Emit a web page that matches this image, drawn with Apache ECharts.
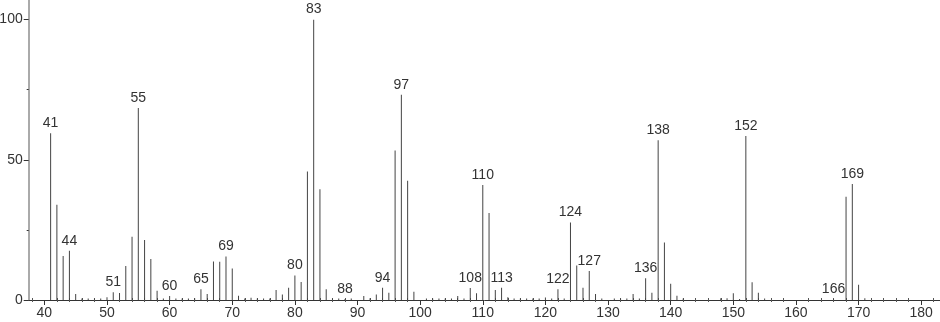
<!DOCTYPE html>
<html>
<head>
<meta charset="utf-8">
<script src="https://cdn.jsdelivr.net/npm/echarts@6/dist/echarts.min.js"></script>
<style>
html,body{margin:0;padding:0;background:#fff;}
#chart{width:940px;height:322px;}
</style>
</head>
<body>
<div id="chart"></div>
<script>
// m/z values and relative intensities
const masses = [41,42,43,44,45,46,47,48,49,50,51,52,53,54,55,56,57,58,59,60,
  61,62,63,64,65,66,67,68,69,70,71,72,73,74,75,76,77,78,79,80,81,82,83,84,85,
  86,87,88,89,91,92,93,94,95,96,97,98,99,101,102,103,104,105,106,107,108,109,
  110,111,112,113,114,115,116,117,118,119,120,121,122,123,124,125,126,127,128,
  129,131,132,133,134,135,136,137,138,139,140,141,142,148,149,150,151,152,153,
  154,155,166,168,169,170,171];
const intensities = [59.5,34,15.7,17.6,2.1,0.5,0.5,0.5,0.5,1.0,2.8,2.5,12.1,22.6,68.5,21.4,14.6,3.3,0.5,1.4,
  0.5,0.5,0.5,0.6,3.8,2.1,13.7,13.6,15.5,11.2,1.5,0.5,0.8,0.5,0.5,0.5,3.6,2.0,4.4,8.7,6.4,45.8,100,39.5,3.8,
  0.5,0.5,0.4,0.5,1.4,0.6,2.0,4.4,2.6,53.3,73.2,42.5,2.9,0.5,0.5,0.5,0.5,0.5,1.4,0.5,4.3,2.4,
  41,31,3.6,4.4,1.0,0.5,0.5,0.5,0.5,0.5,0.9,0.5,3.8,0.5,27.6,12.3,4.4,10.3,2.1,
  0.5,0.5,0.5,0.5,2.1,0.5,7.8,2.6,57,20.5,5.8,1.5,0.5,0.6,0.6,2.4,0.4,58.5,6.3,
  2.6,0.5,0.4,36.8,41.4,5.4,0.6];
const labeledPeaks = [41,44,51,55,60,65,69,80,83,88,94,97,108,110,113,122,124,127,136,138,152,166,169];

const xMajorTicks = [40,50,60,70,80,90,100,110,120,130,140,150,160,170,180];
const xMinorTicks = [38,42,44,46,48,52,54,56,58,62,64,66,68,72,74,76,78,82,84,86,88,92,94,96,98,
  102,104,106,108,112,114,116,118,122,124,126,128,132,134,136,138,142,144,146,148,
  152,154,156,158,162,164,166,168,172,174,176,178,182];
const yMajorTicks = [0,50,100];
const yMinorTicks = [25,75];

const FONT = 'Liberation Sans';
const chart = echarts.init(document.getElementById('chart'));
const data = masses.map((m, i) => [m, intensities[i]]);
const xBase = {type:'value', min:37.5, max:183, splitLine:{show:false}, position:'bottom'};
const yBase = {type:'value', min:0, max:107, splitLine:{show:false}, position:'left'};

chart.setOption({
  animation:false,
  backgroundColor:'#fff',
  grid:{left:28.7, right:0, top:0, bottom:22, containLabel:false, outerBoundsMode:'none'},
  xAxis:[
    Object.assign({}, xBase, {
      axisLine:{show:true, lineStyle:{color:'#333', width:1}},
      axisTick:{show:true, customValues:xMajorTicks, length:5, lineStyle:{color:'#333'}},
      axisLabel:{show:true, customValues:xMajorTicks, margin:6, fontFamily:FONT, fontSize:14, color:'#333'}
    }),
    Object.assign({}, xBase, {
      offset:-2,
      axisLine:{show:false},
      axisTick:{show:true, customValues:xMinorTicks, length:4, lineStyle:{color:'#555'}},
      axisLabel:{show:false}
    })
  ],
  yAxis:[
    Object.assign({}, yBase, {
      axisLine:{show:true, lineStyle:{color:'#aaa', width:2}},
      axisTick:{show:true, customValues:yMajorTicks, length:5, lineStyle:{color:'#333'}},
      axisLabel:{show:true, customValues:yMajorTicks, margin:6, fontFamily:FONT, fontSize:14, color:'#333'}
    }),
    Object.assign({}, yBase, {
      axisLine:{show:false},
      axisTick:{show:true, customValues:yMinorTicks, length:2, lineStyle:{color:'#333'}},
      axisLabel:{show:false}
    })
  ],
  series:[{
    type:'bar',
    xAxisIndex:0,
    yAxisIndex:0,
    data:data,
    barWidth:1,
    itemStyle:{color:'#444'},
    label:{
      show:true,
      position:'top',
      distance:3,
      fontFamily:FONT,
      fontSize:14,
      color:'#333',
      formatter:function(p){ return labeledPeaks.indexOf(p.value[0]) >= 0 ? String(p.value[0]) : ''; }
    }
  }]
});
</script>
</body>
</html>
